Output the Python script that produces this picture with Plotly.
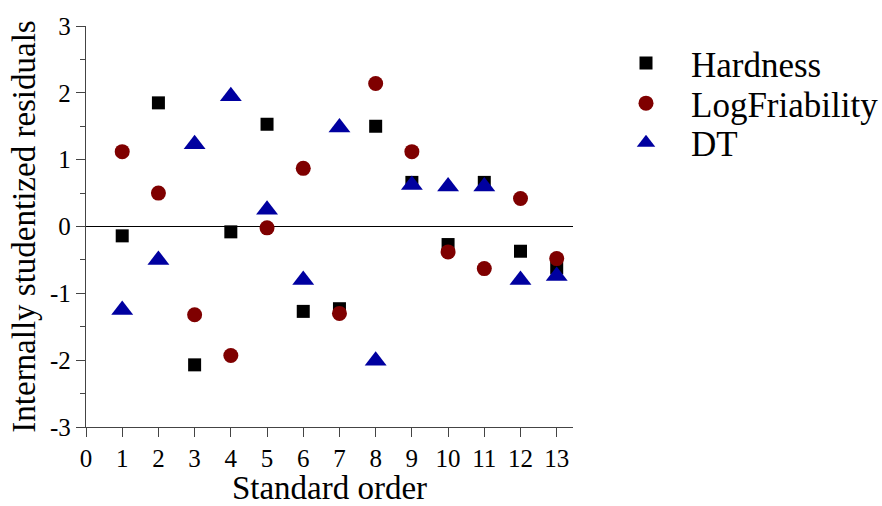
import plotly.graph_objects as go

order = list(range(1, 14))
hardness = [-0.14, 1.85, -2.07, -0.08, 1.53, -1.27, -1.23, 1.50, 0.66, -0.27, 0.66, -0.37, -0.62]
log_friability = [1.12, 0.50, -1.32, -1.93, -0.02, 0.87, -1.30, 2.14, 1.12, -0.38, -0.63, 0.42, -0.48]
dt = [-1.25, -0.50, 1.23, 1.95, 0.25, -0.80, 1.48, -2.01, 0.62, 0.60, 0.60, -0.80, -0.74]

names = ["Hardness", "LogFriability", "DT"]
colors = ["#000000", "#7f0000", "#0000a0"]
symbols = ["square", "circle", "triangle-up"]
sizes = [13, 15, 19]
series = [hardness, log_friability, dt]
legend_ids = ["legend", "legend2", "legend3"]
legend_rows = [0.907, 0.807, 0.708]

yticks = [-3, -2, -1, 0, 1, 2, 3]
yticktext = ["-3", "-2", "-1", "0", "1", "2", "3"]
xticks = list(range(0, 14))

font_family = "Liberation Serif, Times New Roman, serif"

W, H = 882, 506
legend_left_px = 601

fig = go.Figure()
for name, vals, col, sym, sz, lid in zip(names, series, colors, symbols, sizes, legend_ids):
    fig.add_trace(go.Scatter(
        x=order, y=vals, mode="markers", name=name, legend=lid,
        marker=dict(symbol=sym, size=sz, color=col, line=dict(width=0)),
    ))

layout_legends = {
    lid: dict(y=yy, x=legend_left_px / W, xref="container", xanchor="left",
              yanchor="middle", font=dict(size=35), itemwidth=80,
              bgcolor="rgba(0,0,0,0)")
    for lid, yy in zip(legend_ids, legend_rows)
}

fig.update_layout(
    width=W, height=H,
    margin=dict(l=86, r=309, t=26, b=79),
    paper_bgcolor="white", plot_bgcolor="white",
    font=dict(family=font_family, size=25, color="black"),
    showlegend=True,
    xaxis=dict(
        range=[0, 13.45], tickvals=xticks, showgrid=False, zeroline=False,
        showline=True, linecolor="#444", linewidth=1.3, automargin=False,
        ticks="outside", ticklen=9, tickcolor="#444", tickwidth=1.3,
        tickfont=dict(size=25),
        title=dict(text="Standard order", font=dict(size=33), standoff=6),
    ),
    yaxis=dict(
        range=[-3, 3], tickvals=yticks, ticktext=yticktext, showgrid=False,
        zeroline=True, zerolinecolor="black", zerolinewidth=1.2, automargin=False,
        showline=True, linecolor="#444", linewidth=1.3,
        ticks="outside", ticklen=9, tickcolor="#444", tickwidth=1.3,
        minor=dict(ticks="outside", ticklen=5, dtick=0.5, tickcolor="#444", tickwidth=1.3),
        tickfont=dict(size=25),
        title=dict(text="Internally studentized residuals", font=dict(size=33), standoff=4),
    ),
    **layout_legends,
)

fig.write_html("out.html")
